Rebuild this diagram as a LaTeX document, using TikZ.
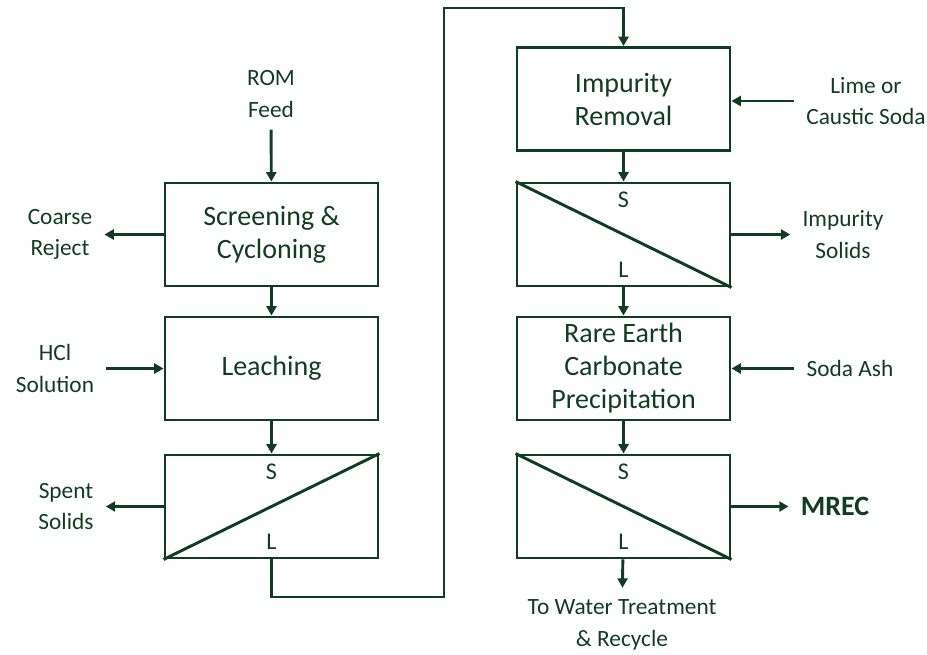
\documentclass[tikz,border=0pt]{standalone}
\usepackage{fontspec}
\setmainfont{Carlito}
\usetikzlibrary{arrows.meta,positioning}
\definecolor{procgreen}{RGB}{17,60,36}

\begin{document}
\begin{tikzpicture}[x=0.75pt,y=-0.75pt,inner sep=0.4mm,
  unit/.style={draw=procgreen,line width=2.2pt,minimum width=159.75pt,minimum height=77.25pt,
    align=center,text=procgreen,font=\fontsize{21}{24.75}\selectfont},
  sepbox/.style={unit},
  sl/.style={text=procgreen,font=\fontsize{18}{21}\selectfont},
  side/.style={align=center,text=procgreen,inner sep=9pt,font=\fontsize{17.5}{23.5}\selectfont},
  flow/.style={draw=procgreen,line width=2.2pt,-{Triangle[length=7pt,width=7.5pt]}},
  pipe/.style={draw=procgreen,line width=2.2pt}]
\useasboundingbox (0,0) rectangle (927,654);

% left train
\node[unit] (screen) at (271.5,234.5) {Screening \&\\Cycloning};
\node[unit] (leach) at (271.5,368.5) {Leaching};
\node[sepbox] (sepA) at (271.5,506.5) {};

% right train
\node[unit] (impure) at (623.5,99) {Impurity\\Removal};
\node[sepbox] (sepB) at (623.5,234.5) {};
\node[unit] (precip) at (623.5,368.5) {Rare Earth\\Carbonate\\Precipitation};
\node[sepbox] (sepC) at (623.5,506.5) {};

% solid/liquid splits
\draw[pipe] (sepA.south west) -- (sepA.north east);
\draw[pipe] (sepB.north west) -- (sepB.south east);
\draw[pipe] (sepC.north west) -- (sepC.south east);
\foreach \s in {sepA,sepB,sepC}{
  \node[sl] (\s-s) at ([yshift=-13.5pt]\s.north) {S};
  \node[sl] (\s-l) at ([yshift=13.5pt]\s.south) {L};
}

% streams in and out
\node[side] (rom) at (271,94) {ROM\\Feed};
\node[side] (coarse) at (60,234.5) {Coarse\\Reject};
\node[side] (hcl) at (55,368.5) {HCl\\Solution};
\node[side] (spent) at (66,506.5) {Spent\\Solids};
\node[side] (lime) at (866,101) {Lime or\\Caustic Soda};
\node[side] (impsol) at (843,234.5) {Impurity\\Solids};
\node[side] (soda) at (850,368.5) {Soda Ash};
\node[side,font=\bfseries\fontsize{21}{25}\selectfont] (mrec) at (835,506.5) {MREC};
\node[side] (water) at (622,625) {To Water Treatment\\\& Recycle};

\draw[flow] (rom) -- (screen);
\draw[flow] (screen) -- (leach);
\draw[flow] (leach) -- (sepA);
\draw[flow] (screen.west) -- (coarse.east);
\draw[flow] (hcl.east) -- (leach.west);
\draw[flow] (sepA.west) -- (spent.east);

\coordinate (lowbend) at (444,597);
\coordinate (topbend) at (444,8);
\draw[flow] (sepA.south) |- (lowbend) -- (topbend) -| (impure.north);

\draw[flow] (lime.west) -- (impure.east |- lime.west);
\draw[flow] (impure) -- (sepB);
\draw[flow] (sepB.east) -- (impsol.west);
\draw[flow] (sepB) -- (precip);
\draw[flow] (soda.west) -- (precip.east);
\draw[flow] (precip) -- (sepC);
\draw[flow] (sepC.east) -- (mrec.west);
\draw[flow] (sepC) -- (water);

\end{tikzpicture}
\end{document}
